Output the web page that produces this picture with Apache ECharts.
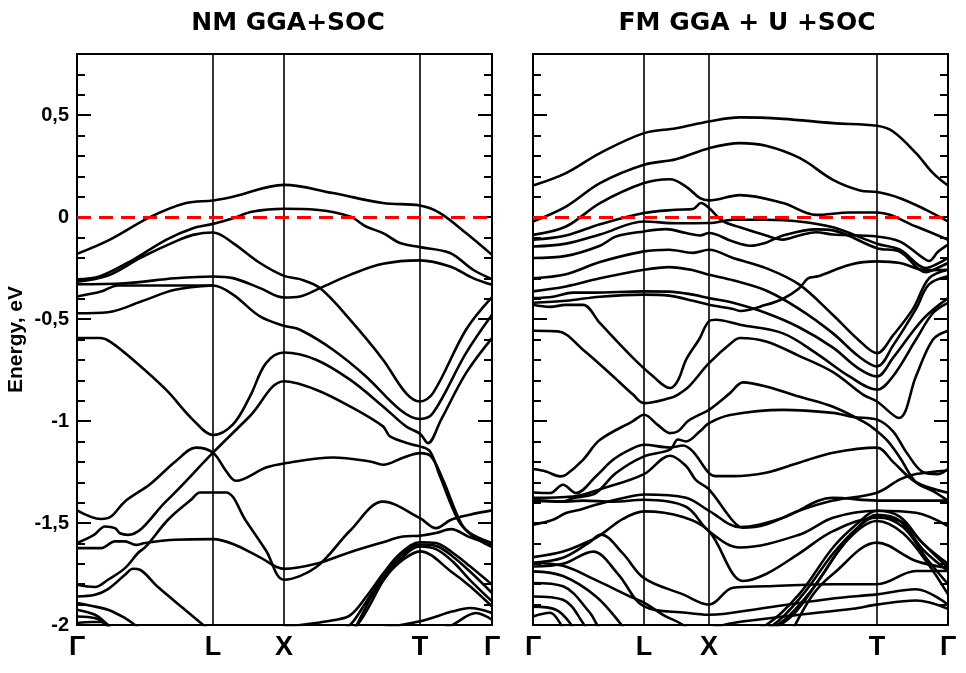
<!DOCTYPE html>
<html>
<head>
<meta charset="utf-8">
<script src="https://cdn.jsdelivr.net/npm/echarts@6/dist/echarts.min.js"></script>
<style>
  html, body { margin: 0; padding: 0; background: #fff; }
  #chart { width: 966px; height: 673px; }
</style>
</head>
<body>
<div id="chart"></div>
<script>
// k-path labels and positions (path length, arbitrary units)
var kLabels = ['Γ', 'L', 'X', 'T', 'Γ'];
var nmKpts = [0, 136, 207, 343, 415];
var fmKpts = [0, 111, 176, 344, 415];
var panelTitles = ['NM GGA+SOC', 'FM GGA + U +SOC'];
var eMin = -2, eMax = 0.8;

// NM GGA+SOC bands, [k, E(eV)]
var nmBands = [
  [[0,-0.18],[33,-0.11],[73,0.0],[109,0.069],[136,0.082],[156,0.1],[207,0.158],[256,0.118],[306,0.069],[343,0.057],[363,0.02],[389,-0.078],[415,-0.185]],
  [[0,-0.305],[23,-0.29],[56,-0.209],[89,-0.111],[116,-0.054],[136,-0.033],[156,-0.005],[176,0.028],[207,0.041],[239,0.036],[273,0.003],[289,-0.046],[306,-0.078],[323,-0.127],[343,-0.147],[373,-0.176],[396,-0.258],[415,-0.304]],
  [[0,-0.316],[31,-0.286],[64,-0.198],[98,-0.12],[116,-0.087],[136,-0.075],[156,-0.127],[183,-0.225],[207,-0.288],[223,-0.304],[243,-0.348],[273,-0.503],[306,-0.699],[329,-0.863],[343,-0.904],[356,-0.863],[389,-0.552],[415,-0.392]],
  [[0,-0.329],[48,-0.324],[98,-0.3],[136,-0.291],[156,-0.299],[183,-0.348],[207,-0.394],[223,-0.389],[243,-0.348],[273,-0.283],[306,-0.229],[343,-0.212],[373,-0.242],[396,-0.299],[415,-0.332]],
  [[0,-0.389],[24,-0.365],[41,-0.335],[81,-0.335],[136,-0.335],[156,-0.38],[183,-0.487],[207,-0.533],[223,-0.552],[256,-0.65],[289,-0.781],[323,-0.944],[343,-0.99],[356,-0.961],[389,-0.667],[415,-0.479]],
  [[0,-0.471],[31,-0.466],[64,-0.414],[98,-0.356],[136,-0.335]],
  [[0,-0.593],[23,-0.593],[33,-0.61],[56,-0.699],[89,-0.846],[116,-0.994],[136,-1.068],[156,-1.016],[173,-0.879],[189,-0.716],[207,-0.664],[239,-0.699],[273,-0.797],[306,-0.928],[329,-1.026],[343,-1.062],[351,-1.108],[364,-0.994],[389,-0.765],[415,-0.593]],
  [[0,-1.598],[17,-1.558],[28,-1.517],[38,-1.525],[43,-1.55],[51,-1.558],[89,-1.394],[136,-1.155],[173,-0.975],[207,-0.805],[239,-0.846],[273,-0.928],[306,-1.026],[313,-1.075],[336,-1.116],[343,-1.124],[353,-1.149],[363,-1.271],[381,-1.484],[393,-1.549],[415,-1.598]],
  [[0,-1.438],[24,-1.48],[34,-1.468],[48,-1.394],[73,-1.31],[99,-1.196],[119,-1.13],[136,-1.155],[149,-1.244],[159,-1.293],[189,-1.228],[207,-1.208],[256,-1.179],[293,-1.198],[306,-1.214],[326,-1.18],[343,-1.157],[354,-1.173],[366,-1.288],[384,-1.5],[396,-1.565],[415,-1.618]],
  [[0,-1.623],[24,-1.623],[38,-1.59],[48,-1.59],[59,-1.607],[68,-1.598],[98,-1.582],[136,-1.579],[156,-1.603],[183,-1.668],[207,-1.725],[239,-1.7],[273,-1.643],[306,-1.594],[326,-1.566],[343,-1.562],[359,-1.549],[374,-1.53],[393,-1.57],[415,-1.605]],
  [[0,-1.803],[18,-1.814],[31,-1.778],[48,-1.721],[61,-1.647],[69,-1.615],[91,-1.484],[114,-1.386],[123,-1.35],[136,-1.35],[149,-1.35],[169,-1.49],[189,-1.635],[207,-1.778],[239,-1.717],[273,-1.538],[306,-1.395],[343,-1.476],[359,-1.525],[374,-1.484],[393,-1.459],[415,-1.438]],
  [[0,-1.86],[18,-1.852],[31,-1.824],[48,-1.754],[56,-1.724],[63,-1.729],[81,-1.814],[108,-1.925],[128,-2.007],[140,-2.05]],
  [[207,-2.01],[239,-1.99],[256,-1.977],[273,-1.953],[289,-1.863],[306,-1.749],[323,-1.651],[343,-1.594],[359,-1.598],[376,-1.647],[393,-1.712],[415,-1.802]],
  [[260,-2.05],[275,-1.99],[289,-1.888],[306,-1.765],[323,-1.664],[343,-1.605],[359,-1.612],[376,-1.665],[393,-1.738],[415,-1.843]],
  [[265,-2.05],[280,-2.0],[292,-1.91],[306,-1.785],[323,-1.68],[343,-1.615],[359,-1.628],[376,-1.69],[393,-1.78],[415,-1.884]],
  [[275,-2.05],[293,-1.876],[309,-1.761],[326,-1.68],[343,-1.639],[376,-1.745],[393,-1.81],[415,-1.909]],
  [[300,-2.02],[343,-1.982],[376,-1.933],[393,-1.917],[415,-1.941]],
  [[360,-2.03],[376,-1.998],[399,-1.941],[415,-1.974]],
  [[0,-1.892],[14,-1.906],[31,-1.925],[48,-1.966],[58,-2.0],[65,-2.03]],
  [[0,-1.925],[18,-1.95],[28,-1.987],[35,-2.02]],
  [[0,-1.958],[11,-1.961],[21,-1.971],[29,-2.0],[34,-2.02]],
  [[0,-1.99],[15,-1.985],[25,-1.985],[33,-2.02]]
];

// FM GGA+U+SOC bands, [k, E(eV)]
var fmBands = [
  [[0,0.155],[33,0.216],[67,0.314],[111,0.412],[143,0.436],[176,0.469],[207,0.489],[250,0.482],[300,0.461],[344,0.448],[360,0.42],[383,0.314],[400,0.216],[415,0.155]],
  [[0,-0.021],[33,0.052],[67,0.167],[111,0.257],[143,0.284],[176,0.338],[207,0.363],[233,0.35],[267,0.289],[300,0.183],[327,0.131],[344,0.123],[367,0.093],[393,0.036],[415,-0.021]],
  [[0,-0.087],[33,-0.046],[67,0.069],[111,0.167],[137,0.186],[153,0.15],[167,0.093],[176,0.082],[207,0.108],[250,0.069],[283,0.011],[317,0.023],[344,0.023],[383,-0.046],[415,-0.111]],
  [[0,-0.111],[33,-0.09],[67,-0.035],[111,0.02],[143,0.036],[160,0.04],[168,0.069],[176,0.045],[190,-0.02],[207,-0.05],[233,-0.09],[250,-0.11],[266,-0.09],[283,-0.074],[300,-0.085],[344,-0.095],[367,-0.12],[390,-0.2],[396,-0.215],[405,-0.17],[415,-0.135]],
  [[0,-0.144],[33,-0.13],[67,-0.085],[111,-0.021],[143,-0.03],[176,-0.029],[200,-0.013],[233,-0.013],[266,-0.021],[300,-0.05],[344,-0.13],[367,-0.16],[393,-0.25],[404,-0.23],[415,-0.2]],
  [[0,-0.2],[33,-0.19],[67,-0.14],[83,-0.095],[111,-0.07],[133,-0.059],[153,-0.078],[167,-0.09],[176,-0.078],[200,-0.12],[217,-0.14],[233,-0.125],[250,-0.09],[283,-0.06],[300,-0.065],[344,-0.152],[367,-0.17],[393,-0.27],[404,-0.25],[415,-0.225]],
  [[0,-0.3],[33,-0.28],[67,-0.22],[111,-0.168],[136,-0.16],[160,-0.175],[176,-0.16],[200,-0.2],[233,-0.25],[266,-0.33],[300,-0.48],[325,-0.6],[344,-0.667],[360,-0.58],[380,-0.45],[396,-0.3],[415,-0.258]],
  [[0,-0.364],[33,-0.34],[67,-0.3],[111,-0.258],[136,-0.245],[160,-0.26],[176,-0.283],[200,-0.31],[233,-0.36],[266,-0.45],[300,-0.57],[325,-0.68],[344,-0.732],[360,-0.63],[383,-0.45],[396,-0.33],[415,-0.29]],
  [[0,-0.397],[20,-0.39],[40,-0.37],[60,-0.37],[111,-0.364],[136,-0.365],[160,-0.38],[176,-0.397],[200,-0.42],[233,-0.47],[266,-0.54],[300,-0.64],[325,-0.74],[344,-0.781],[360,-0.69],[390,-0.5],[415,-0.397]],
  [[0,-0.42],[33,-0.41],[67,-0.39],[111,-0.38],[136,-0.385],[160,-0.41],[176,-0.43],[200,-0.45],[207,-0.46],[233,-0.43],[250,-0.4],[266,-0.35],[275,-0.3],[285,-0.29],[317,-0.233],[344,-0.217],[367,-0.225],[393,-0.26],[415,-0.258]],
  [[0,-0.43],[17,-0.44],[33,-0.43],[50,-0.43],[67,-0.52],[100,-0.69],[120,-0.78],[137,-0.838],[145,-0.8],[153,-0.7],[166,-0.6],[176,-0.51],[183,-0.503],[207,-0.528],[250,-0.57],[283,-0.667],[316,-0.78],[344,-0.846],[360,-0.78],[383,-0.6],[400,-0.47],[415,-0.42]],
  [[0,-0.557],[25,-0.56],[50,-0.65],[80,-0.78],[100,-0.87],[111,-0.912],[137,-0.887],[145,-0.87],[156,-0.83],[176,-0.716],[200,-0.61],[207,-0.593],[233,-0.61],[266,-0.68],[300,-0.76],[330,-0.87],[344,-0.904],[366,-0.985],[383,-0.78],[400,-0.6],[415,-0.557]],
  [[0,-1.235],[13,-1.247],[27,-1.271],[33,-1.263],[50,-1.19],[67,-1.092],[100,-1.0],[111,-0.969],[125,-1.02],[137,-1.059],[145,-1.05],[155,-1.0],[166,-0.97],[176,-0.945],[197,-0.863],[210,-0.81],[233,-0.83],[266,-0.88],[300,-0.93],[333,-1.01],[344,-1.05],[355,-1.1],[367,-1.18],[383,-1.3],[400,-1.343],[415,-1.39]],
  [[0,-1.35],[17,-1.353],[30,-1.312],[43,-1.353],[63,-1.271],[80,-1.19],[97,-1.14],[111,-1.116],[137,-1.13],[150,-1.12],[160,-1.15],[176,-1.255],[183,-1.27],[200,-1.27],[233,-1.253],[266,-1.204],[300,-1.155],[344,-1.13],[360,-1.2],[383,-1.3],[415,-1.351]],
  [[0,-1.386],[30,-1.394],[40,-1.378],[50,-1.37],[63,-1.353],[83,-1.255],[111,-1.173],[137,-1.14],[145,-1.09],[153,-1.1],[167,-1.05],[176,-1.01],[197,-0.97],[250,-0.945],[300,-0.96],[320,-0.98],[344,-0.993],[360,-1.05],[373,-1.15],[390,-1.25],[405,-1.26],[415,-1.235]],
  [[0,-1.508],[20,-1.484],[33,-1.451],[47,-1.435],[63,-1.41],[97,-1.37],[111,-1.36],[153,-1.376],[176,-1.44],[207,-1.52],[250,-1.474],[300,-1.376],[344,-1.39],[383,-1.39],[415,-1.39]],
  [[0,-1.39],[30,-1.395],[50,-1.39],[80,-1.395],[111,-1.386],[153,-1.42],[176,-1.54],[207,-1.62],[267,-1.556],[300,-1.474],[344,-1.44],[383,-1.45],[415,-1.515]],
  [[0,-1.376],[40,-1.37],[70,-1.33],[111,-1.26],[137,-1.17],[153,-1.22],[163,-1.29],[176,-1.335],[200,-1.49],[210,-1.523],[233,-1.507],[266,-1.44],[300,-1.39],[344,-1.351],[367,-1.286],[383,-1.26],[415,-1.242]],
  [[0,-1.667],[30,-1.64],[60,-1.58],[68,-1.557],[90,-1.48],[111,-1.443],[150,-1.47],[176,-1.54],[200,-1.75],[210,-1.784],[233,-1.75],[266,-1.65],[300,-1.54],[344,-1.474],[367,-1.49],[390,-1.6],[415,-1.72]],
  [[0,-1.695],[30,-1.67],[55,-1.6],[68,-1.557],[90,-1.65],[111,-1.77],[150,-1.85],[176,-1.9],[200,-1.817],[233,-1.81],[300,-1.8],[344,-1.8],[383,-1.735],[415,-1.735]],
  [[0,-1.713],[30,-1.7],[60,-1.64],[85,-1.75],[111,-1.909],[153,-1.94],[176,-1.95],[233,-1.915],[300,-1.87],[344,-1.85],[383,-1.825],[415,-1.9]],
  [[176,-2.02],[200,-1.99],[266,-1.95],[320,-1.92],[344,-1.9],[383,-1.88],[415,-1.92]],
  [[200,-2.05],[233,-2.0],[266,-1.85],[300,-1.62],[325,-1.5],[344,-1.44],[367,-1.47],[390,-1.6],[415,-1.7]],
  [[210,-2.05],[240,-2.0],[270,-1.85],[300,-1.65],[325,-1.52],[344,-1.46],[367,-1.49],[390,-1.63],[415,-1.735]],
  [[220,-2.05],[250,-1.98],[280,-1.82],[305,-1.64],[330,-1.5],[344,-1.47],[370,-1.52],[393,-1.67],[415,-1.8]],
  [[230,-2.05],[260,-1.95],[290,-1.75],[315,-1.58],[344,-1.49],[370,-1.55],[395,-1.7],[415,-1.85]],
  [[260,-2.02],[280,-1.85],[300,-1.75],[344,-1.596],[383,-1.686],[415,-1.72]],
  [[0,-1.696],[30,-1.71],[63,-1.78],[97,-1.86],[111,-1.89],[130,-1.95],[150,-2.0],[160,-2.05]],
  [[0,-1.737],[30,-1.76],[63,-1.86],[87,-1.99],[95,-2.05]],
  [[0,-1.794],[30,-1.81],[57,-1.94],[63,-1.99],[70,-2.05]],
  [[0,-1.86],[30,-1.876],[50,-1.99],[55,-2.05]],
  [[0,-1.91],[23,-1.925],[37,-1.99],[42,-2.05]],
  [[0,-1.958],[17,-1.94],[27,-1.99],[32,-2.05]]
];

var chart = echarts.init(document.getElementById('chart'));

var grids = [
  { left: 77, top: 54, width: 415, height: 571, show: true, borderColor: '#000', borderWidth: 2 },
  { left: 533, top: 54, width: 415, height: 571, show: true, borderColor: '#000', borderWidth: 2 }
];

function xAx(gi, kpts) {
  return {
    type: 'value', gridIndex: gi, min: 0, max: 415,
    axisLine: { show: false }, axisTick: { show: false }, splitLine: { show: false },
    axisLabel: {
      customValues: kpts, margin: 9,
      fontFamily: 'Liberation Sans, Arial, sans-serif', fontWeight: 'bold', fontSize: 27, color: '#000',
      formatter: function (v) { return kLabels[kpts.indexOf(v)] || ''; }
    }
  };
}

// one y axis: side = 'left'/'right', minor = true for the 0.1 eV ticks
function yAx(gi, side, minor, showLabels, name) {
  return {
    type: 'value', gridIndex: gi, position: side, min: eMin, max: eMax,
    interval: minor ? 0.1 : 0.5,
    name: name || '', nameLocation: 'middle', nameGap: 50,
    nameTextStyle: { fontFamily: 'Liberation Sans, Arial, sans-serif', fontWeight: 'bold', fontSize: 21, color: '#000' },
    axisLine: { show: false }, splitLine: { show: false },
    axisTick: { show: true, inside: true, length: minor ? 8 : 14, lineStyle: { color: '#000', width: 2 } },
    axisLabel: {
      show: showLabels && !minor, showMaxLabel: false, margin: 8,
      fontFamily: 'Liberation Sans, Arial, sans-serif', fontWeight: 'bold', fontSize: 20, color: '#000',
      formatter: function (v) { return String(v).replace('.', ','); }
    }
  };
}

var yAxes = [];
[0, 1].forEach(function (gi) {
  yAxes.push(yAx(gi, 'left', false, gi === 0, gi === 0 ? 'Energy, eV' : ''));
  yAxes.push(yAx(gi, 'left', true, false));
  yAxes.push(yAx(gi, 'right', false, false));
  yAxes.push(yAx(gi, 'right', true, false));
});

function bandSeries(bands, gi) {
  return bands.map(function (b) {
    return {
      type: 'line', xAxisIndex: gi, yAxisIndex: gi * 4, data: b,
      smooth: 0.35, symbol: 'none', silent: true, z: 3,
      lineStyle: { color: '#000', width: 2.6 }
    };
  });
}

function markerSeries(gi, kpts) {
  var lines = kpts.slice(1, -1).map(function (k) {
    return { xAxis: k, lineStyle: { color: '#000', width: 1.6, type: 'solid' } };
  });
  lines.push({ yAxis: 0, lineStyle: { color: '#ff0000', width: 3, type: [14, 8] } });
  return {
    type: 'line', xAxisIndex: gi, yAxisIndex: gi * 4, data: [], silent: true, z: 6,
    markLine: { symbol: 'none', silent: true, animation: false, label: { show: false }, data: lines }
  };
}

var series = [markerSeries(0, nmKpts), markerSeries(1, fmKpts)]
  .concat(bandSeries(nmBands, 0))
  .concat(bandSeries(fmBands, 1));

chart.setOption({
  animation: false,
  backgroundColor: '#fff',
  title: [
    { text: panelTitles[0], left: 283, top: 6, textAlign: 'center',
      textStyle: { fontFamily: 'DejaVu Sans', fontWeight: 'bold', fontSize: 25, color: '#000' } },
    { text: panelTitles[1], left: 742, top: 6, textAlign: 'center',
      textStyle: { fontFamily: 'DejaVu Sans', fontWeight: 'bold', fontSize: 25, color: '#000' } }
  ],
  grid: grids,
  xAxis: [xAx(0, nmKpts), xAx(1, fmKpts)],
  yAxis: yAxes,
  series: series
});
</script>
</body>
</html>
